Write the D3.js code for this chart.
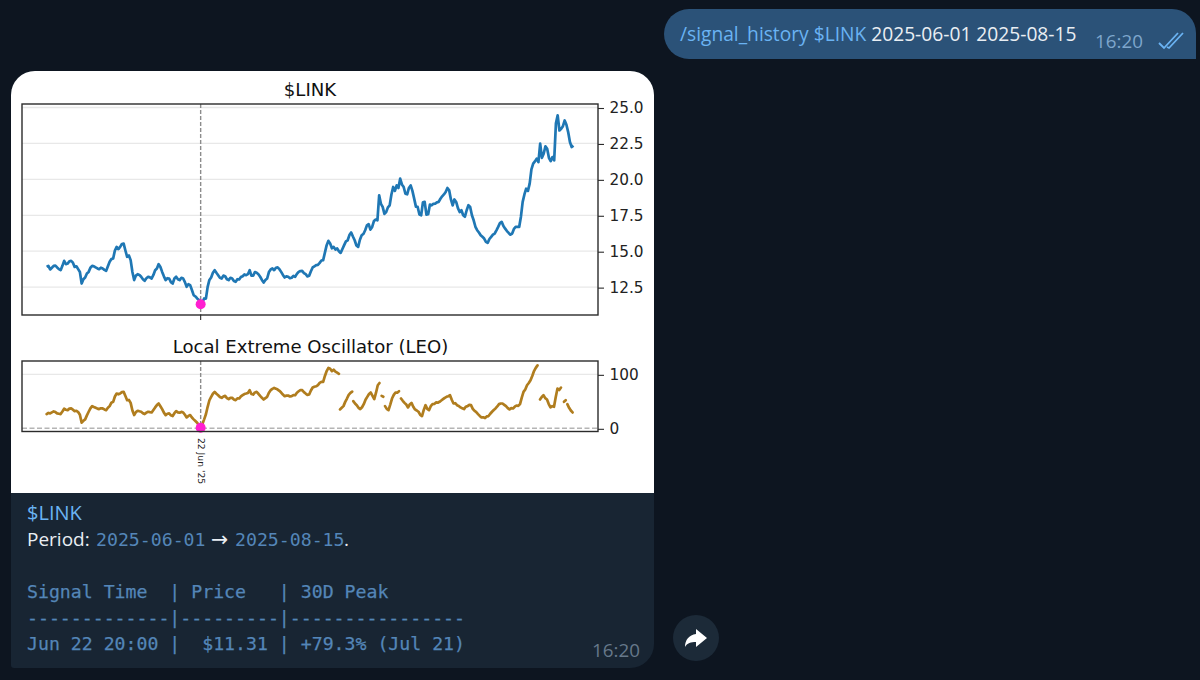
<!DOCTYPE html>
<html>
<head>
<meta charset="utf-8">
<script src="https://cdn.jsdelivr.net/npm/d3@7"></script>
<style>
html,body{margin:0;padding:0;background:#0d1520;overflow:hidden}
svg{display:block}
</style>
</head>
<body>
<svg id="c" width="1200" height="680"></svg>
<script>
// 6-hourly closes, first sample below
const seriesStart = "2025-05-31T20:00:00Z";
const priceValues = [13.91,13.98,13.73,13.85,13.98,14.00,13.87,13.75,13.68,13.98,14.33,14.10,14.14,14.30,14.33,14.20,13.91,13.95,13.75,13.55,12.75,13.05,13.17,13.45,13.56,13.85,13.98,13.95,13.87,13.80,13.75,13.85,13.80,13.70,13.63,13.95,14.26,14.45,14.49,15.05,15.30,15.15,15.30,15.50,15.53,15.05,14.61,14.70,14.38,13.55,12.99,13.30,13.40,13.35,13.22,13.05,12.94,13.12,13.22,13.18,13.10,13.35,13.68,13.80,14.10,13.90,13.56,13.25,12.99,13.12,13.10,12.85,12.75,13.10,13.22,13.05,12.99,13.15,13.10,12.85,12.52,12.70,12.64,12.30,11.94,11.85,11.71,11.60,11.31,11.45,11.71,11.70,12.52,13.00,13.17,13.50,13.68,13.50,13.33,13.15,13.10,13.30,13.26,13.05,12.99,13.15,13.10,12.92,12.87,13.05,13.03,13.20,13.26,13.38,13.33,13.40,13.68,13.30,13.29,13.55,13.50,13.40,13.22,13.00,12.82,13.00,13.10,13.55,13.73,13.80,13.68,13.85,13.87,13.75,13.56,13.35,13.17,13.25,13.22,13.12,13.15,13.28,13.22,13.42,13.56,13.62,13.63,13.48,13.40,13.25,13.29,13.60,13.87,13.95,14.03,14.05,14.19,14.35,14.38,14.90,15.42,15.72,15.53,15.20,15.30,15.12,15.19,15.00,14.88,15.15,15.42,15.68,15.76,16.12,16.30,16.02,15.76,15.40,15.30,15.80,16.11,16.20,16.46,16.80,16.88,16.50,16.69,17.10,17.20,17.15,18.89,18.30,18.08,17.60,17.73,18.05,18.19,18.95,19.47,19.20,19.58,19.40,20.05,19.65,19.47,19.00,18.96,19.40,19.58,19.20,18.66,18.10,18.08,17.55,17.50,18.40,18.43,17.55,17.57,18.25,18.19,18.30,18.31,18.40,18.43,18.65,18.82,18.95,19.12,19.40,19.24,18.60,18.19,18.60,18.43,18.00,17.73,17.85,17.50,17.40,17.85,18.20,18.08,17.50,17.15,16.70,16.46,16.30,16.11,16.00,15.88,15.65,15.58,15.85,16.00,16.15,16.23,16.45,16.69,16.95,17.04,16.75,16.57,16.40,16.27,16.15,16.23,16.55,16.69,16.70,16.69,17.40,18.43,18.95,19.35,19.20,19.70,20.70,21.09,21.25,21.44,21.20,22.48,21.50,21.78,22.30,22.13,21.50,21.27,21.55,21.32,23.90,24.45,23.40,23.52,23.70,24.10,23.80,23.29,22.60,22.25,22.35];
// LEO is broken into runs; each run begins at the given sample offset
const leoRunStarts = [0,167.6,175.2,191.4,193.34,202.48,281.9,295.6,297.52];
const leoRun1 = [26.4,28.5,27.6,29.5,31.3,30.0,27.6,27.0,26.4,31.0,36.2,34.5,33.7,36.5,36.8,34.5,31.9,32.5,30.1,25.0,10.4,14.0,16.6,24.0,30.7,37.0,41.1,39.5,38.0,36.5,35.6,37.0,36.8,35.0,33.7,38.0,41.1,47.5,49.1,59.0,64.4,63.0,64.4,67.0,67.5,60.0,52.1,52.5,47.2,33.0,24.5,30.0,32.5,31.5,30.7,28.0,26.4,29.0,30.7,30.0,29.4,34.0,38.7,43.0,46.0,41.0,35.6,29.0,24.5,27.0,27.6,24.0,22.7,28.0,31.9,29.5,28.8,30.5,29.4,25.0,20.2,23.0,24.5,20.0,16.6,13.5,10.4,6.0,1.2,8.0,16.6,26.0,39.9,52.0,58.3,64.0,67.5,64.0,61.3,58.0,56.4,59.0,60.1,56.0,54.0,56.5,56.4,53.5,52.1,55.5,55.2,59.0,61.3,63.5,64.4,65.5,70.6,63.5,62.6,66.5,67.5,64.0,60.1,56.5,53.4,56.0,58.3,66.0,70.6,73.0,74.8,73.5,71.8,69.5,66.3,62.5,59.5,60.5,60.7,59.0,59.5,61.5,61.3,66.0,68.7,71.0,70.6,67.0,64.4,62.0,62.6,70.0,75.5,77.0,77.9,80.0,84.0,86.0,85.9,97.0,106.1,112.0,110.4,106.0,108.6,105.0,103.1,101.0];
const leoRun2 = [35.0,38.0,41.1,49.0,55.2,62.0,65.6,68.0];
const leoRun3 = [50.3,46.0,42.9,38.0,35.6,39.0,44.8,53.0,58.3,63.5,66.3,60.0,54.0,66.0,79.8,84.0];
const leoRun4 = [60.1,58.5];
const leoRun5 = [41.1,36.0,33.7,44.0,55.2,62.0,66.3,66.0,68.7];
const leoRun6 = [55.2,51.0,47.2,44.0,38.7,44.0,47.2,40.0,35.0,33.0,30.7,25.0,22.7,34.0,42.9,36.0,33.7,41.0,44.8,45.0,47.9,47.5,49.1,51.5,54.0,56.5,58.3,59.5,61.3,53.0,46.0,46.5,42.9,41.5,38.7,37.0,35.6,40.0,41.1,43.5,42.9,36.0,32.5,30.0,26.4,23.0,20.2,20.5,19.0,22.0,22.7,27.0,30.7,34.0,36.8,40.5,44.8,46.0,46.0,43.5,41.1,37.5,35.0,37.5,36.8,40.0,42.3,41.5,44.8,57.0,67.5,72.0,79.8,84.0,89.0,97.0,106.1,112.0,116.6];
const leoRun7 = [53.4,58.0,61.3,56.0,53.4,45.0,38.7,41.0,39.9,58.0,73.6,71.0,75.5];
const leoRun8 = [49.1,52.1];
const leoRun9 = [44.8,38.0,33.0,29.4];
const priceTicks = [12.5,15.0,17.5,20.0,22.5,25.0];
const leoTicks = [0,100];
const signalTime = "2025-06-22T20:00:00Z";
const signalPrice = 11.31;
const signalLeo = 1.2;
const signalTickLabel = "22 Jun '25";
const tableHeader = "Signal Time  | Price   | 30D Peak";
const tableRule = "-------------|---------|----------------";
const tableRow = "Jun 22 20:00 |  $11.31 | +79.3% (Jul 21)";

const svg = d3.select("#c");
const SANS = "'Open Sans',sans-serif", MONO = "'DejaVu Sans Mono',monospace", PLOT = "'DejaVu Sans',sans-serif";
const LINK="#6ab3f3", CODE="#5486b8", INK="#e9eef3";

// chat chrome
svg.append("rect").attr("width",1200).attr("height",680).attr("fill","#0d1520");
svg.append("path").attr("fill","#2b5278")
  .attr("d","M689 9H1172a24 24 0 0 1 24 24V59H689a25 25 0 0 1 0-50Z");
const out = svg.append("text").attr("x",680).attr("y",41).attr("font-family",SANS).attr("font-size",19.2);
out.append("tspan").attr("fill",LINK).text("/signal_history $LINK");
out.append("tspan").attr("fill",INK).text(" 2025-06-01 2025-08-15");
svg.append("text").attr("x",1095).attr("y",48).attr("font-family",SANS).attr("font-size",18.8).attr("fill","#7ea6cc").text("16:20");
svg.append("path").attr("fill","none").attr("stroke","#6ab3f3").attr("stroke-width",1.8)
  .attr("d","M1159 43l5 5 14-15M1167 47l2 1 14-15");

svg.append("path").attr("fill","#182533")
  .attr("d","M35 71H630a24 24 0 0 1 24 24V644a24 24 0 0 1-24 24H14a3 3 0 0 1-3-3V95a24 24 0 0 1 24-24Z");
svg.append("path").attr("fill","#ffffff")
  .attr("d","M35 71H630a24 24 0 0 1 24 24V493H11V95a24 24 0 0 1 24-24Z");

// scales
const x = d3.scaleUtc().domain([new Date("2025-05-28T07:30:00Z"),new Date("2025-08-18T14:15:00Z")]).range([22,598]);
const yP = d3.scaleLinear().domain([10.56,25.244]).range([315,104]);
const yL = d3.scaleLinear().domain([-5.9,124.7]).range([431.5,361]);
const t0 = +new Date(seriesStart);
const at = i => new Date(t0 + i*6*3600*1000);

// grid and reference lines
const gp = svg.append("g");
gp.selectAll("line").data(priceTicks).join("line")
  .attr("x1",22).attr("x2",598).attr("y1",d=>yP(d)).attr("y2",d=>yP(d)).attr("stroke","#e8e8e8").attr("stroke-width",1.3);
const gl = svg.append("g");
gl.selectAll("line").data(leoTicks.filter(d=>d>0)).join("line")
  .attr("x1",22).attr("x2",598).attr("y1",d=>yL(d)).attr("y2",d=>yL(d)).attr("stroke","#e8e8e8").attr("stroke-width",1.3);
svg.append("line").attr("x1",22).attr("x2",598).attr("y1",yL(0)).attr("y2",yL(0))
  .attr("stroke","#b5b5b5").attr("stroke-width",1.4).attr("stroke-dasharray","5 2.5");
const sx = x(new Date(signalTime));
[[104,315],[361,431.5]].forEach(([a,b])=>{
  svg.append("line").attr("x1",sx).attr("x2",sx).attr("y1",a).attr("y2",b)
    .attr("stroke","#8c8c8c").attr("stroke-width",1.4).attr("stroke-dasharray","4 2");
});

// series
const priceLine = d3.line().x((d,i)=>x(at(i))).y(d=>yP(d));
svg.append("path").datum(priceValues).attr("d",priceLine).attr("fill","none")
  .attr("stroke","#1f77b4").attr("stroke-width",2.7).attr("stroke-linejoin","round");
const leoRuns = [leoRun1,leoRun2,leoRun3,leoRun4,leoRun5,leoRun6,leoRun7,leoRun8,leoRun9];
leoRuns.forEach((run,k)=>{
  const line = d3.line().x((d,i)=>x(at(leoRunStarts[k]+i))).y(d=>yL(d));
  svg.append("path").datum(run).attr("d",line).attr("fill","none")
    .attr("stroke","#b07d1e").attr("stroke-width",2.7).attr("stroke-linejoin","round").attr("stroke-linecap","round");
});

// signal markers
svg.append("circle").attr("cx",sx).attr("cy",yP(signalPrice)).attr("r",5).attr("fill","#ff1fd0");
svg.append("circle").attr("cx",sx).attr("cy",yL(signalLeo)).attr("r",5).attr("fill","#ff1fd0");

// frames
[[104,315],[361,431.5]].forEach(([a,b])=>{
  svg.append("rect").attr("x",22).attr("y",a).attr("width",576).attr("height",b-a)
    .attr("fill","none").attr("stroke","#2b2b2b").attr("stroke-width",1.4);
});

// axes
function styleAxis(g){
  g.select(".domain").remove();
  g.selectAll(".tick line").attr("stroke","#2b2b2b").attr("stroke-width",1.1);
  g.selectAll(".tick text").attr("fill","#222").attr("font-family",PLOT).attr("font-size",15.3);
}
svg.append("g").attr("transform","translate(598,0.5)")
  .call(d3.axisRight(yP).tickValues(priceTicks).tickFormat(d3.format(".1f")).tickSize(6).tickPadding(5.5)).call(styleAxis);
svg.append("g").attr("transform","translate(598,0.5)")
  .call(d3.axisRight(yL).tickValues(leoTicks).tickFormat(d3.format("d")).tickSize(6).tickPadding(5.5)).call(styleAxis);
svg.append("line").attr("x1",sx).attr("x2",sx).attr("y1",315).attr("y2",320).attr("stroke","#2b2b2b").attr("stroke-width",1.1);
svg.append("text").attr("transform",`translate(${sx-2.5},438) rotate(90)`)
  .attr("font-family",PLOT).attr("font-size",9.2).attr("fill","#222").text(signalTickLabel);

// titles
svg.append("text").attr("x",310).attr("y",96).attr("text-anchor","middle").attr("font-family",PLOT).attr("font-size",18.1).attr("fill","#111").text("$LINK");
svg.append("text").attr("x",310.5).attr("y",353).attr("text-anchor","middle").attr("font-family",PLOT).attr("font-size",18.1).attr("fill","#111").text("Local Extreme Oscillator (LEO)");

// caption
svg.append("text").attr("x",27).attr("y",520).attr("font-family",SANS).attr("font-size",20).attr("fill",LINK).text("$LINK");
svg.append("text").attr("x",27).attr("y",546).attr("font-family",SANS).attr("font-size",19).attr("fill",INK).text("Period:");
svg.append("text").attr("x",96).attr("y",546).attr("font-family",MONO).attr("font-size",18.2).attr("fill",CODE).text("2025-06-01");
svg.append("text").attr("x",211).attr("y",546).attr("font-family",PLOT).attr("font-size",20.5).attr("fill",INK).text("→");
svg.append("text").attr("x",235).attr("y",546).attr("font-family",MONO).attr("font-size",18.2).attr("fill",CODE).text("2025-08-15");
svg.append("text").attr("x",344).attr("y",546).attr("font-family",SANS).attr("font-size",19).attr("fill",INK).text(".");
[[598,tableHeader],[624,tableRule],[650,tableRow]].forEach(([yy,s])=>{
  svg.append("text").attr("x",27).attr("y",yy).attr("font-family",MONO).attr("font-size",18.2)
    .attr("fill",CODE).attr("stroke",CODE).attr("stroke-width",0.25).attr("xml:space","preserve").text(s);
});
svg.append("text").attr("x",592).attr("y",657).attr("font-family",SANS).attr("font-size",18.8).attr("fill","#66788a").text("16:20");

// forward button
svg.append("circle").attr("cx",696).attr("cy",638).attr("r",23).attr("fill","#1c2a38");
svg.append("path").attr("fill","#ffffff").attr("d","M696 629l11 9-11 9v-5c-5 0-9 1-11 5 0-7 4-12 11-13Z");
</script>
</body>
</html>
